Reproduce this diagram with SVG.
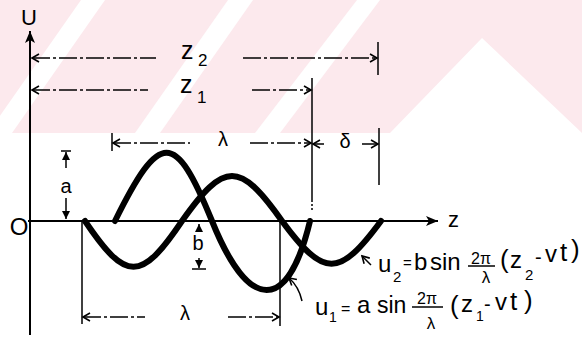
<svg xmlns="http://www.w3.org/2000/svg" width="582" height="339" viewBox="0 0 582 339">
<style>
  text { font-family: "Liberation Sans", Arial, sans-serif; fill: #000; }
  .dim { stroke: #000; stroke-width: 1.4; fill: none; stroke-dasharray: 18 3 3 3; }
  .tick { stroke: #000; stroke-width: 1.5; fill: none; }
  .axis { stroke: #000; stroke-width: 2; fill: none; }
  .wave { stroke: #000; stroke-width: 6; fill: none; stroke-linecap: round; stroke-linejoin: round; }
  .lbl { font-size: 20px; text-anchor: middle; }
  .eq { font-size: 24px; }
  .sub { font-size: 15px; }
</style>
<defs>
  <marker id="ah" markerUnits="userSpaceOnUse" markerWidth="12" markerHeight="12" refX="10" refY="6" orient="auto-start-reverse">
    <path d="M3,2 L10,6 L3,10" fill="none" stroke="#000" stroke-width="1.6"/>
  </marker>
  <marker id="ax" markerUnits="userSpaceOnUse" markerWidth="14" markerHeight="12" refX="12" refY="5" orient="auto">
    <path d="M0,0 L12,5 L0,10 L3,5 Z" fill="#000"/>
  </marker>
  <marker id="sa" markerUnits="userSpaceOnUse" markerWidth="10" markerHeight="10" refX="8" refY="4" orient="auto-start-reverse">
    <path d="M0,0 L8,4 L0,8 Z" fill="#000"/>
  </marker>
</defs>

<g id="watermark" fill="#fce9ed" stroke="none">
  <polygon points="0,0 582,0 582,133 0,133"/>
  <g fill="#ffffff">
    <polygon points="-12,133 12,133 105,0 81,0"/>
    <polygon points="135,133 160,133 253,0 228,0"/>
    <polygon points="255,133 280,133 380,0 357,0"/>
    <polygon points="390,133 482,38 582,133"/>
  </g>
</g>

<g id="axes">
  <line class="axis" x1="30" y1="335" x2="30" y2="31" marker-end="url(#ax)"/>
  <line class="axis" x1="28" y1="221" x2="438" y2="221" marker-end="url(#ax)"/>
  <text x="29" y="25" font-size="22" text-anchor="middle">U</text>
  <text x="19" y="235" font-size="24" text-anchor="middle">O</text>
  <text x="448" y="227" font-size="22">z</text>
</g>

<g id="curve-u1">
  <path class="wave" d="M115,221 C160,130 175,130 212,221 C249,313 288,313 310,221"/>
</g>
<g id="curve-u2">
  <path class="wave" d="M85,221 C126,282 141,282 182,221 C224.4,161 239.6,161 282,221 C324,278 339,278 381,221"/>
</g>

<g id="connectors">
  <!-- z2 -->
  <line class="dim" x1="32" y1="58" x2="156" y2="58" marker-start="url(#ah)"/>
  <line class="dim" x1="243" y1="58" x2="377" y2="58" marker-end="url(#ah)"/>
  <line class="tick" x1="378" y1="42" x2="378" y2="75"/>
  <!-- z1 -->
  <line class="dim" x1="32" y1="90" x2="148" y2="90" marker-start="url(#ah)"/>
  <line class="dim" x1="252" y1="90" x2="311" y2="90" marker-end="url(#ah)"/>
  <line class="tick" x1="312" y1="78" x2="312" y2="200"/>
  <line class="tick" x1="312" y1="200" x2="312" y2="211" stroke-dasharray="2 2"/>
  <!-- lambda top -->
  <line class="tick" x1="112" y1="133" x2="112" y2="151"/>
  <line class="dim" x1="113" y1="143" x2="190" y2="143" marker-start="url(#ah)"/>
  <line class="dim" x1="250" y1="143" x2="311" y2="143" marker-end="url(#ah)"/>
  <!-- delta -->
  <line class="tick" x1="313" y1="144" x2="324" y2="144" marker-start="url(#ah)"/>
  <line class="tick" x1="362" y1="144" x2="378" y2="144" marker-end="url(#ah)"/>
  <line class="tick" x1="379" y1="128" x2="379" y2="185"/>
  <!-- a -->
  <line class="tick" x1="61" y1="151" x2="71" y2="151"/>
  <line class="tick" x1="66" y1="168" x2="66" y2="152" marker-end="url(#sa)"/>
  <line class="tick" x1="66" y1="198" x2="66" y2="219" marker-end="url(#sa)"/>
  <!-- b -->
  <line class="tick" x1="199" y1="231" x2="199" y2="224" marker-end="url(#sa)"/>
  <line class="tick" x1="199" y1="258" x2="199" y2="268" marker-end="url(#sa)"/>
  <line class="tick" x1="192" y1="269" x2="206" y2="269"/>
  <!-- lambda bottom -->
  <line class="tick" x1="82" y1="221" x2="82" y2="324"/>
  <line class="tick" x1="280" y1="221" x2="280" y2="326"/>
  <line class="dim" x1="83" y1="317" x2="145" y2="317" marker-start="url(#ah)"/>
  <line class="dim" x1="228" y1="317" x2="279" y2="317" marker-end="url(#ah)"/>
  <!-- label pointers -->
  <line class="tick" x1="371" y1="265" x2="362" y2="256" marker-end="url(#ah)"/>
  <path class="tick" d="M302,301 C300,292 296,284 289,278" marker-end="url(#ah)"/>
</g>

<g id="dim-labels">
  <text x="181" y="59" font-size="25">z</text>
  <text x="198" y="66" font-size="17">2</text>
  <text x="180" y="93" font-size="25">z</text>
  <text x="197" y="103" font-size="17">1</text>
  <text class="lbl" x="223" y="146">λ</text>
  <text class="lbl" x="345" y="148">δ</text>
  <text class="lbl" x="66" y="193">a</text>
  <text class="lbl" x="198" y="250">b</text>
  <text class="lbl" x="185" y="320">λ</text>
</g>

<g id="eq-u2">
  <text class="eq" x="378" y="272">u</text>
  <text class="sub" x="393" y="282">2</text>
  <text x="403" y="268" font-size="15">=</text>
  <text class="eq" x="414" y="270">b</text>
  <text class="eq" x="430" y="270">sin</text>
  <text x="481" y="264" font-size="16" text-anchor="middle">2π</text>
  <line class="tick" x1="468" y1="266" x2="495" y2="266"/>
  <text x="486" y="283" font-size="17" text-anchor="middle">λ</text>
  <text x="500" y="268" font-size="26">(</text>
  <text class="eq" x="510" y="268">z</text>
  <text class="sub" x="525" y="280">2</text>
  <text x="535" y="264" font-size="20">-</text>
  <text class="eq" x="545" y="262">v</text>
  <text x="560" y="261" font-size="26">t</text>
  <text x="571" y="258" font-size="26">)</text>
</g>

<g id="eq-u1">
  <text class="eq" x="315" y="315">u</text>
  <text x="329" y="322" font-size="14">1</text>
  <text x="341" y="314" font-size="16">=</text>
  <text class="eq" x="357" y="313">a</text>
  <text x="377" y="313" font-size="23">sin</text>
  <text x="427" y="304" font-size="16" text-anchor="middle">2π</text>
  <line class="tick" x1="412" y1="307" x2="443" y2="307"/>
  <text x="431" y="329" font-size="17" text-anchor="middle">λ</text>
  <text x="450" y="314" font-size="26">(</text>
  <text class="eq" x="461" y="312">z</text>
  <text x="476" y="321" font-size="14">1</text>
  <text x="484" y="311" font-size="20">-</text>
  <text class="eq" x="495" y="310">v</text>
  <text x="510" y="310" font-size="26">t</text>
  <text x="524" y="309" font-size="26">)</text>
</g>
</svg>
